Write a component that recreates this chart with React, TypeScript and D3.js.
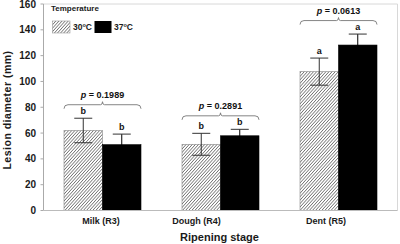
import React from "react";
import * as d3 from "d3";

const categories = ["Milk (R3)", "Dough (R4)", "Dent (R5)"];
const temps = ["30", "37"];
const mean30 = [62, 51.3, 107.6];
const mean37 = [51, 57.9, 128.2];
const err30 = [9.5, 8.5, 10.5];
const err37 = [8.2, 5, 8.5];
const letters30 = ["b", "b", "a"];
const letters37 = ["b", "b", "a"];
const pValues = ["0.1989", "0.2891", "0.0613"];
const yTicks = [0, 20, 40, 60, 80, 100, 120, 140, 160];
const labelShift = [-1.5, -24, -12.5];

const W = 400, H = 244;
const L = 43.5, R = 397.5, T = 4, B = 210.5;
const FONT = "'Liberation Sans', Arial, sans-serif";

export default function App() {
  const y = d3.scaleLinear().domain([0, 160]).range([B, T]);
  const x = d3.scaleBand<string>().domain(categories).range([L, R]).padding(0);
  const bw = x.bandwidth();
  const sub = d3.scaleBand<string>().domain(temps).range([(bw - 77) / 2, (bw + 77) / 2]).padding(0);
  const sw = sub.bandwidth();
  const means = [mean30, mean37];
  const errs = [err30, err37];
  const lets = [letters30, letters37];

  return (
    <div style={{ position: "absolute", left: 0, top: 0 }}>
      <svg width={W} height={H} style={{ display: "block", fontFamily: FONT }}>
        <defs>
          <pattern id="hatch" width="2.3" height="2.3" patternUnits="userSpaceOnUse" patternTransform="rotate(42)">
            <rect width="2.3" height="2.3" fill="#fff" />
            <line x1="0" y1="0" x2="0" y2="2.3" stroke="#3a3a3a" strokeWidth="1.1" />
          </pattern>
        </defs>
        <rect x={0} y={0} width={W} height={H} fill="#fff" />
        {/* frame */}
        <path d={`M${L},${T}H${R}V${B}`} fill="none" stroke="#d8d8d8" strokeWidth={1} />
        {/* bars */}
        {categories.map((c, i) =>
          temps.map((t, k) => {
            const x0 = (x(c) as number) + (sub(t) as number);
            const m = means[k][i];
            const e = errs[k][i];
            const cx = x0 + sw / 2;
            return (
              <g key={c + t}>
                <rect x={x0} y={y(m)} width={sw} height={B - y(m)}
                  fill={k === 0 ? "url(#hatch)" : "#000"} stroke={k === 0 ? "#888" : "#000"} strokeWidth={0.6} />
                <line x1={cx} x2={cx} y1={y(m + e)} y2={y(m - e)} stroke={k === 0 ? "#333" : "#000"} strokeWidth={1} />
                <line x1={cx - 9} x2={cx + 9} y1={y(m + e)} y2={y(m + e)} stroke="#333" strokeWidth={1} />
                <line x1={cx - 9} x2={cx + 9} y1={y(m - e)} y2={y(m - e)} stroke={k === 0 ? "#333" : "#000"} strokeWidth={1} />
                <text x={cx} y={y(m + e) - 4} textAnchor="middle" fontSize={9} fontWeight="bold" fill="#111">{lets[k][i]}</text>
              </g>
            );
          })
        )}
        {/* brackets */}
        {categories.map((c, i) => {
          const x0 = (x(c) as number) + (sub("30") as number);
          const x1 = (x(c) as number) + (sub("37") as number) + sw;
          const top = Math.max(mean30[i] + err30[i], mean37[i] + err37[i]);
          const by = y(top) - 13.5;
          const mx = (x0 + x1) / 2;
          return (
            <g key={"br" + c}>
              <path d={`M${x0},${by + 4} Q${x0},${by} ${x0 + 4},${by} H${mx - 2} Q${mx},${by} ${mx},${by - 3} Q${mx},${by} ${mx + 2},${by} H${x1 - 4} Q${x1},${by} ${x1},${by + 4}`}
                fill="none" stroke="#777" strokeWidth={0.9} />
              <text x={mx} y={by - 6.5} textAnchor="middle" fontSize={9} fontWeight="bold" fill="#111">
                <tspan fontStyle="italic">p</tspan> = {pValues[i]}
              </text>
            </g>
          );
        })}
        {/* y axis */}
        <line x1={L} x2={L} y1={T} y2={B} stroke="#aaa" strokeWidth={1} />
        {yTicks.map((v) => (
          <g key={v}>
            <line x1={L - 3} x2={L} y1={y(v)} y2={y(v)} stroke="#aaa" />
            <text x={36} y={y(v)} dy="0.35em" textAnchor="end" fontSize={10} fontWeight="bold" fill="#1a1a1a">{v}</text>
          </g>
        ))}
        {/* x axis */}
        <line x1={L} x2={R} y1={B} y2={B} stroke="#bbb" strokeWidth={1} />
        {categories.map((c, i) => (
          <text key={"xl" + c} x={(x(c) as number) + bw / 2 + labelShift[i]} y={224} textAnchor="middle" fontSize={9} fontWeight="bold" fill="#1a1a1a">{c}</text>
        ))}
        <text x={219.5} y={241} textAnchor="middle" fontSize={11} fontWeight="bold" fill="#1a1a1a">Ripening stage</text>
        <text transform={`translate(10.5,110) rotate(-90)`} textAnchor="middle" fontSize={10.5} fontWeight="bold" fill="#1a1a1a" letterSpacing={0.5}>Lesion diameter (mm)</text>
        {/* legend */}
        <text x={51} y={11} fontSize={8} fontWeight="bold" fill="#1a1a1a">Temperature</text>
        <rect x={52.5} y={21} width={17.5} height={12} fill="url(#hatch)" stroke="#999" strokeWidth={0.6} />
        <text x={73} y={30} fontSize={8.5} fontWeight="bold" fill="#1a1a1a">30<tspan fontSize={5.5} dy={-3}>o</tspan><tspan dy={3}>C</tspan></text>
        <rect x={94.5} y={21} width={17} height={12} fill="#000" />
        <text x={114} y={30} fontSize={8.5} fontWeight="bold" fill="#1a1a1a">37<tspan fontSize={5.5} dy={-3}>o</tspan><tspan dy={3}>C</tspan></text>
      </svg>
    </div>
  );
}
